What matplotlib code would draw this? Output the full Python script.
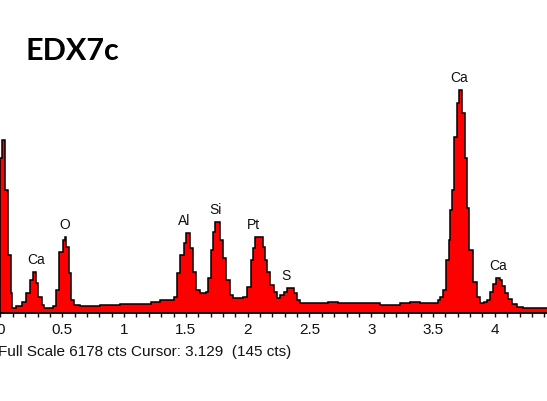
import numpy as np
import matplotlib
matplotlib.use("Agg")
import matplotlib.pyplot as plt

# bin edges (keV) and counts
edges = [0.000, 0.016, 0.040, 0.057, 0.081, 0.097, 0.129, 0.178, 0.210, 0.235,
         0.259, 0.291, 0.307, 0.332, 0.356, 0.421, 0.453, 0.477, 0.502, 0.518,
         0.534, 0.558, 0.574, 0.591, 0.647, 0.809, 0.971, 1.214, 1.294, 1.400,
         1.432, 1.456, 1.481, 1.497, 1.537, 1.561, 1.578, 1.618, 1.659, 1.683,
         1.707, 1.723, 1.739, 1.780, 1.804, 1.828, 1.853, 1.885, 1.966, 1.998,
         2.023, 2.047, 2.063, 2.128, 2.144, 2.160, 2.184, 2.209, 2.241, 2.265,
         2.290, 2.322, 2.371, 2.403, 2.427, 2.646, 2.727, 3.074, 3.236, 3.317,
         3.398, 3.536, 3.560, 3.584, 3.608, 3.625, 3.641, 3.657, 3.673, 3.697,
         3.714, 3.738, 3.762, 3.778, 3.794, 3.827, 3.859, 3.883, 3.916, 3.940,
         3.964, 3.989, 4.013, 4.045, 4.061, 4.086, 4.110, 4.142, 4.183, 4.231,
         4.450]
counts = [3060, 3415, 2430, 1145, 395, 100, 140, 215, 395, 650,
          810, 590, 315, 160, 100, 140, 455, 1205, 1440, 1500,
          1300, 790, 255, 160, 140, 160, 180, 215, 255, 315,
          790, 1145, 1380, 1580, 1285, 810, 455, 395, 415, 690,
          1245, 1600, 1795, 1440, 1085, 650, 355, 295, 315, 515,
          1045, 1285, 1500, 1300, 1045, 810, 555, 415, 295, 355,
          415, 495, 395, 255, 195, 215, 195, 160, 195, 215,
          195, 255, 315, 455, 1045, 1440, 2035, 2430, 3475, 4145,
          4400, 3950, 3060, 2075, 1245, 610, 315, 195, 215, 255,
          415, 570, 690, 650, 535, 395, 275, 180, 120, 100]

peak_names = ["Ca", "O", "Al", "Si", "Pt", "S", "Ca", "Ca"]
peak_energies = [0.29, 0.52, 1.49, 1.74, 2.05, 2.31, 3.71, 4.03]

full_scale = 6178
footer = "Full Scale 6178 cts Cursor: 3.129  (145 cts)"

plt.rcParams['font.family'] = ['Liberation Sans', 'DejaVu Sans']

fig = plt.figure(figsize=(5.47, 4.01), dpi=100)
ax = fig.add_axes([0, 88 / 401, 1, 313 / 401])

ax.stairs(counts, edges, fill=True, facecolor="#ff0000", edgecolor="none", baseline=0)
ax.stairs(counts, edges, fill=False, color="black", linewidth=1.1, baseline=0)

ax.set_xlim(-0.004, 4.422)
ax.set_ylim(0, full_scale)

for s in ["top", "right", "left"]:
    ax.spines[s].set_visible(False)
ax.spines["bottom"].set_linewidth(1.3)
ax.set_yticks([])
ax.set_xticks(np.arange(0, 4.01, 0.5))
ax.set_xticklabels(["0", "0.5", "1", "1.5", "2", "2.5", "3", "3.5", "4"])
ax.set_xticks(np.arange(0, 4.45, 0.1), minor=True)
ax.tick_params(axis="x", which="both", direction="out", length=3, width=1,
               labelsize=11, pad=4, colors="#111111")

# peak labels above local maxima
e_mid = (np.array(edges[:-1]) + np.array(edges[1:])) / 2
c_arr = np.array(counts)
for name, en in zip(peak_names, peak_energies):
    near = np.abs(e_mid - en) < 0.05
    top = c_arr[near].max()
    ax.annotate(name, xy=(en, top), xytext=(0, 12), textcoords="offset pixels",
                ha="center", va="center", fontsize=10, color="#111111")

fig.text(-0.004, 1 - 352 / 401, footer, fontsize=11, ha="left", va="center",
         color="#111111")
fig.text(25 / 547, 1 - 51 / 401, "EDX7c", fontsize=22, fontweight="bold",
         family="Lato", ha="left", va="center", color="black")

fig.savefig("out.png", dpi=100)
